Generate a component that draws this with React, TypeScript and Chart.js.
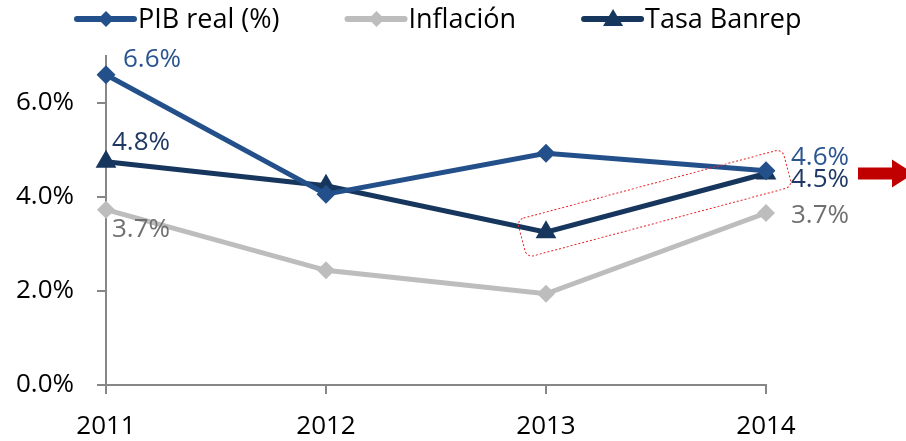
import React, { useEffect, useRef } from "react";
import { Chart, registerables } from "chart.js";

Chart.register(...registerables);

const categories = ["2011", "2012", "2013", "2014"];
const pibReal = [6.6, 4.06, 4.93, 4.56];
const inflacion = [3.73, 2.44, 1.94, 3.66];
const tasaBanrep = [4.75, 4.24, 3.25, 4.5];
const yTicks = [0, 2, 4, 6];
const seriesNames = ["PIB real (%)", "Inflación", "Tasa Banrep"];

// value labels: [datasetIndex, pointIndex, text]
const valueLabels: [number, number, string][] = [
  [0, 0, "6.6%"],
  [2, 0, "4.8%"],
  [1, 0, "3.7%"],
  [0, 3, "4.6%"],
  [2, 3, "4.5%"],
  [1, 3, "3.7%"],
];
// style offsets for value labels (dx to left edge, dy to vertical centre)
const labelOffsets: [number, number][] = [
  [17, -15],
  [6, -19],
  [6, 20],
  [25, -13],
  [25, 6],
  [25, 3],
];

const FONT = "'Open Sans', 'Noto Sans', sans-serif";
const C_PIB = "#23508A";
const C_INF = "#BDBDBD";
const C_TASA = "#17365D";
const C_LBL = ["#2B5590", "#707070", "#1F3864"];
const AXIS = "#878787";

const extrasPlugin = {
  id: "extras",
  afterDatasetsDraw(chart: any) {
    const ctx = chart.ctx as CanvasRenderingContext2D;
    const area = chart.chartArea;
    ctx.save();
    // value labels
    ctx.font = `26px ${FONT}`;
    ctx.textAlign = "left";
    ctx.textBaseline = "middle";
    valueLabels.forEach(([ds, idx, text], k) => {
      const p = chart.getDatasetMeta(ds).data[idx];
      ctx.fillStyle = C_LBL[ds];
      ctx.fillText(text, p.x + labelOffsets[k][0], p.y + labelOffsets[k][1]);
    });

    // red dotted rotated rounded rectangle around Tasa 2013-2014
    const meta = chart.getDatasetMeta(2);
    const a = meta.data[2];
    const b = meta.data[3];
    const ang = Math.atan2(b.y - a.y, b.x - a.x);
    const len = Math.hypot(b.x - a.x, b.y - a.y);
    const extA = 25;
    const extB = 22;
    const h = 39;
    ctx.translate(a.x, a.y);
    ctx.rotate(ang);
    ctx.beginPath();
    ctx.roundRect(-extA, -h / 2, len + extA + extB, h, 7);
    ctx.setLineDash([2, 2]);
    ctx.lineWidth = 1;
    ctx.strokeStyle = "#E8262A";
    ctx.stroke();
    ctx.setLineDash([]);
    ctx.setTransform(1, 0, 0, 1, 0, 0);

    // red arrow
    const ay = b.y;
    const ax = area.right + 92;
    ctx.beginPath();
    ctx.moveTo(ax, ay - 6);
    ctx.lineTo(ax + 34, ay - 6);
    ctx.lineTo(ax + 34, ay - 14);
    ctx.lineTo(ax + 56, ay);
    ctx.lineTo(ax + 34, ay + 14);
    ctx.lineTo(ax + 34, ay + 6);
    ctx.lineTo(ax, ay + 6);
    ctx.closePath();
    ctx.fillStyle = "#C00000";
    ctx.fill();

    // legend
    ctx.font = `27px ${FONT}`;
    ctx.textBaseline = "middle";
    let x = 77;
    const ly = 19;
    const colors = [C_PIB, C_INF, C_TASA];
    seriesNames.forEach((name, i) => {
      ctx.strokeStyle = colors[i];
      ctx.lineWidth = 6;
      ctx.lineCap = "round";
      ctx.beginPath();
      ctx.moveTo(x, ly);
      ctx.lineTo(x + 57, ly);
      ctx.stroke();
      const mx = x + 29;
      ctx.fillStyle = colors[i];
      ctx.beginPath();
      if (i < 2) {
        ctx.moveTo(mx, ly - 8);
        ctx.lineTo(mx + 8, ly);
        ctx.lineTo(mx, ly + 8);
        ctx.lineTo(mx - 8, ly);
      } else {
        ctx.moveTo(mx, ly - 10);
        ctx.lineTo(mx + 10, ly + 7);
        ctx.lineTo(mx - 10, ly + 7);
      }
      ctx.closePath();
      ctx.fill();
      ctx.fillStyle = "#000000";
      ctx.fillText(name, x + 61, ly + 1);
      x += 61 + ctx.measureText(name).width + 68;
    });
    ctx.restore();
  },
};

export default function App() {
  const ref = useRef<HTMLCanvasElement>(null);
  useEffect(() => {
    document.body.style.margin = "0";
    const chart = new Chart(ref.current!, {
      type: "line",
      data: {
        labels: categories,
        datasets: [
          {
            label: seriesNames[0],
            data: pibReal,
            borderColor: C_PIB,
            backgroundColor: C_PIB,
            borderWidth: 5,
            pointStyle: "rectRot",
            pointRadius: 9.5,
            pointBorderWidth: 0,
            tension: 0,
          },
          {
            label: seriesNames[1],
            data: inflacion,
            borderColor: C_INF,
            backgroundColor: C_INF,
            borderWidth: 5,
            pointStyle: "rectRot",
            pointRadius: 9,
            pointBorderWidth: 0,
            tension: 0,
          },
          {
            label: seriesNames[2],
            data: tasaBanrep,
            borderColor: C_TASA,
            backgroundColor: C_TASA,
            borderWidth: 5,
            pointStyle: "triangle",
            pointRadius: 12,
            pointBorderWidth: 0,
            tension: 0,
          },
        ],
      },
      options: {
        animation: false,
        responsive: false,
        layout: { padding: { top: 56, right: 140, left: 0, bottom: 0 } },
        plugins: { legend: { display: false }, tooltip: { enabled: false } },
        scales: {
          x: {
            offset: false,
            grid: {
              drawOnChartArea: false,
              drawTicks: true,
              tickLength: 9,
              color: AXIS,
              lineWidth: 2,
            },
            border: { color: AXIS, width: 2 },
            ticks: {
              color: "#000000",
              font: { family: FONT, size: 26 },
              padding: 17,
              maxRotation: 0,
            },
            afterFit: (s: any) => {
              s.height = 56;
            },
          },
          y: {
            min: 0,
            max: 7,
            grid: {
              drawOnChartArea: false,
              drawTicks: true,
              tickLength: 9,
              color: AXIS,
              lineWidth: 2,
            },
            border: { color: AXIS, width: 2 },
            ticks: {
              stepSize: 2,
              color: "#000000",
              font: { family: FONT, size: 26 },
              padding: 23,
              callback: (v: any) => Number(v).toFixed(1) + "%",
            },
            afterBuildTicks: (axis: any) => {
              axis.ticks = yTicks.map((v) => ({ value: v }));
            },
            afterFit: (s: any) => {
              s.width = 106;
            },
          },
        },
      },
      plugins: [extrasPlugin],
    });
    return () => chart.destroy();
  }, []);
  return (
    <div style={{ position: "absolute", left: 0, top: 0, width: 906, height: 441 }}>
      <canvas ref={ref} width={906} height={441} />
    </div>
  );
}
